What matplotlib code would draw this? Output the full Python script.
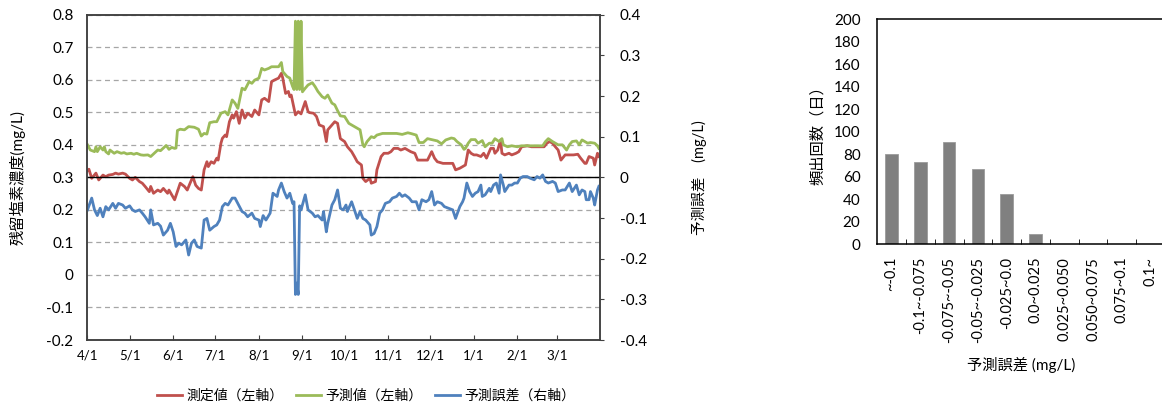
import matplotlib
matplotlib.use('Agg')
import matplotlib.pyplot as plt
import numpy as np
from matplotlib.ticker import FuncFormatter

plt.rcParams['font.family'] = ['Lato', 'Noto Sans CJK JP', 'DejaVu Sans']
plt.rcParams['axes.unicode_minus'] = False

# --- time series (day 0 = 4/1) ---
month_start = [0, 30, 61, 91, 122, 153, 183, 214, 244, 275, 306, 334]
month_labels = ['4/1', '5/1', '6/1', '7/1', '8/1', '9/1', '10/1', '11/1',
                '12/1', '1/1', '2/1', '3/1']

# measured residual chlorine (mg/L, left axis)
meas_day = [0, 1, 3, 6, 8, 11, 13, 15, 18, 20,
            22, 25, 27, 30, 32, 34, 37, 39, 41, 44,
            45, 47, 50, 52, 54, 57, 58, 60, 62, 64,
            66, 69, 71, 73, 75, 77, 79, 81, 83, 85,
            86, 88, 90, 92, 93, 95, 96, 98, 99, 101,
            103, 104, 106, 108, 110, 112, 114, 117, 119, 122,
            124, 126, 129, 131, 133, 136, 138, 139, 141, 143,
            144, 145, 148, 150, 152, 155, 157, 158, 161, 163,
            165, 168, 170, 171, 174, 176, 178, 180, 183, 185,
            188, 190, 192, 195, 196, 198, 201, 202, 205, 206,
            209, 211, 214, 216, 218, 221, 223, 226, 228, 230,
            233, 235, 239, 242, 245, 247, 249, 253, 256, 260,
            262, 265, 267, 269, 271, 273, 275, 277, 280, 282,
            284, 287, 289, 290, 292, 294, 295, 297, 300, 302,
            305, 307, 309, 313, 316, 321, 325, 327, 329, 331,
            333, 335, 337, 340, 343, 346, 349, 351, 354, 355,
            357, 360, 361, 363, 364]
meas_val = [.321, .325, .297, .313, .292, .307, .302, .307, .309, .313,
            .310, .313, .310, .297, .292, .300, .287, .282, .272, .256,
            .272, .251, .261, .256, .266, .251, .261, .246, .231, .256,
            .282, .272, .261, .282, .302, .276, .266, .261, .323, .348,
            .333, .348, .343, .359, .353, .405, .420, .430, .425, .471,
            .492, .482, .502, .466, .507, .482, .497, .487, .507, .492,
            .538, .543, .533, .594, .599, .605, .620, .605, .558, .564,
            .548, .553, .492, .502, .495, .533, .502, .499, .497, .487,
            .461, .456, .410, .446, .461, .471, .466, .419, .410, .394,
            .379, .364, .348, .338, .297, .287, .297, .282, .287, .323,
            .364, .374, .374, .379, .389, .389, .384, .389, .384, .379,
            .374, .353, .353, .353, .379, .359, .348, .343, .343, .343,
            .323, .328, .333, .338, .384, .374, .369, .369, .364, .374,
            .359, .389, .389, .374, .384, .415, .374, .369, .374, .369,
            .374, .379, .394, .397, .394, .394, .394, .405, .410, .405,
            .394, .384, .353, .369, .369, .369, .371, .359, .343, .343,
            .364, .359, .338, .374, .364]

# predicted residual chlorine (mg/L, left axis)
pred_day = [0, 2, 5, 6, 7, 9, 11, 12, 13, 15,
            16, 19, 21, 24, 26, 28, 31, 33, 35, 38,
            40, 43, 45, 47, 50, 52, 56, 58, 60, 62,
            63, 64, 66, 69, 72, 76, 79, 81, 83, 85,
            87, 90, 92, 95, 98, 100, 103, 105, 107, 110,
            112, 115, 117, 119, 122, 124, 126, 129, 131, 133,
            136, 138, 139, 142, 144, 146, 147, 148, 149, 150,
            151, 152, 153, 155, 157, 160, 162, 164, 167, 169,
            171, 174, 176, 178, 180, 183, 186, 190, 194, 196,
            197, 199, 202, 204, 206, 210, 215, 220, 224, 228,
            230, 234, 236, 239, 242, 246, 249, 252, 255, 259,
            261, 263, 266, 268, 269, 271, 273, 276, 278, 281,
            283, 286, 288, 290, 293, 295, 296, 299, 302, 306,
            309, 313, 316, 320, 324, 326, 328, 331, 333, 335,
            338, 341, 343, 345, 348, 350, 352, 354, 356, 358,
            361, 363, 364]
pred_val = [.400, .384, .379, .394, .379, .394, .384, .394, .379, .372,
            .384, .374, .379, .374, .376, .372, .374, .371, .374, .369,
            .368, .369, .364, .372, .384, .382, .398, .386, .392, .389,
            .390, .444, .448, .446, .456, .454, .448, .427, .435, .433,
            .468, .471, .471, .497, .502, .492, .538, .528, .512, .574,
            .569, .594, .589, .599, .605, .635, .630, .635, .640, .640,
            .640, .653, .625, .610, .605, .579, .570, .780, .570, .780,
            .570, .780, .563, .574, .584, .591, .579, .564, .548, .543,
            .553, .528, .523, .505, .489, .487, .466, .456, .446, .400,
            .394, .410, .425, .422, .430, .435, .435, .435, .432, .437,
            .435, .430, .407, .407, .419, .415, .412, .403, .415, .421,
            .419, .410, .400, .386, .389, .405, .416, .416, .405, .413,
            .394, .405, .405, .419, .410, .419, .400, .394, .397, .394,
            .397, .397, .397, .397, .397, .410, .419, .410, .405, .400,
            .400, .384, .400, .410, .412, .400, .415, .410, .405, .407,
            .405, .397, .389]

# prediction error (mg/L, right axis)
err_day = [0, 3, 5, 7, 9, 11, 13, 15, 18, 20,
           22, 25, 27, 30, 32, 34, 37, 39, 41, 44,
           45, 47, 50, 52, 54, 57, 59, 61, 63, 65,
           67, 70, 72, 74, 76, 78, 81, 83, 85, 87,
           90, 92, 94, 96, 98, 100, 103, 105, 107, 110,
           112, 114, 117, 119, 122, 123, 125, 127, 130, 132,
           135, 136, 138, 140, 142, 144, 146, 147, 148, 149,
           150, 151, 152, 155, 157, 160, 162, 164, 167, 168,
           170, 171, 174, 176, 178, 180, 182, 184, 185, 188,
           190, 192, 194, 196, 198, 201, 202, 204, 206, 208,
           210, 212, 215, 217, 220, 222, 224, 226, 229, 231,
           234, 236, 238, 241, 243, 245, 247, 249, 252, 254,
           257, 260, 262, 265, 267, 268, 270, 272, 274, 276,
           278, 280, 281, 283, 286, 287, 289, 291, 293, 294,
           296, 297, 300, 302, 304, 306, 308, 310, 313, 315,
           318, 320, 322, 324, 326, 328, 331, 333, 335, 338,
           340, 343, 345, 348, 350, 352, 354, 355, 357, 358,
           360, 361, 363, 364]
err_val = [-.080, -.051, -.080, -.094, -.076, -.097, -.072, -.080, -.064, -.076,
           -.064, -.068, -.076, -.070, -.080, -.084, -.080, -.088, -.097, -.113,
           -.080, -.117, -.113, -.120, -.142, -.130, -.113, -.134, -.170, -.162,
           -.166, -.154, -.191, -.162, -.154, -.170, -.174, -.105, -.101, -.130,
           -.121, -.117, -.105, -.072, -.064, -.068, -.051, -.051, -.064, -.084,
           -.088, -.097, -.088, -.101, -.105, -.121, -.094, -.105, -.088, -.039,
           -.047, -.031, -.014, -.035, -.051, -.039, -.064, -.060, -.288, -.260,
           -.288, -.070, -.080, -.043, -.080, -.088, -.097, -.094, -.105, -.084,
           -.134, -.113, -.068, -.055, -.031, -.076, -.080, -.068, -.084, -.060,
           -.080, -.101, -.084, -.101, -.105, -.117, -.142, -.138, -.121, -.088,
           -.080, -.064, -.060, -.051, -.047, -.039, -.047, -.043, -.051, -.060,
           -.060, -.080, -.055, -.060, -.055, -.035, -.068, -.060, -.064, -.072,
           -.076, -.080, -.101, -.072, -.060, -.051, -.014, -.035, -.047, -.039,
           -.035, -.019, -.047, -.043, -.027, -.035, -.019, -.014, -.039, .006,
           -.019, -.035, -.019, -.019, -.014, -.014, -.002, .002, .002, -.002,
           -.006, .002, -.002, .006, -.010, -.014, -.010, -.014, -.035, -.031,
           -.031, -.014, -.035, -.019, -.043, -.031, -.035, -.055, -.055, -.035,
           -.051, -.068, -.031, -.022]

# --- histogram of prediction error ---
hist_labels = ['~-0.1', '-0.1~-0.075', '-0.075~-0.05', '-0.05~-0.025',
               '-0.025~0.0', '0.0~0.025', '0.025~0.050', '0.050~0.075',
               '0.075~0.1', '0.1~']
hist_counts = [80, 73, 91, 67, 45, 9, 0, 0, 0, 0]

RED, GREEN, BLUE = '#C0504D', '#9BBB59', '#4F81BD'
SPINE = '#404040'

fig = plt.figure(figsize=(11.62, 4.07), dpi=100)

# left: time series with twin axis
ax = fig.add_axes([0.0753, 0.1646, 0.4413, 0.7993])
ax2 = ax.twinx()

l1, = ax.plot(meas_day, meas_val, color=RED, lw=2, label='測定値（左軸）')
l2, = ax.plot(pred_day, pred_val, color=GREEN, lw=2, label='予測値（左軸）')
ax2.axhline(0, color='black', lw=1)
l3, = ax2.plot(err_day, err_val, color=BLUE, lw=2, label='予測誤差（右軸）')

ax.set_xlim(0, 365)
ax.set_ylim(-0.2, 0.8)
ax2.set_ylim(-0.4, 0.4)

fmt = FuncFormatter(lambda v, p: '0' if abs(v) < 1e-9 else '%.1f' % v)
ax.set_yticks(np.linspace(-0.2, 0.8, 11))
ax.yaxis.set_major_formatter(fmt)
ax.yaxis.grid(True, linestyle=(0, (4, 3)), color='#A6A6A6', lw=0.9)
ax.set_axisbelow(True)
ax.tick_params(axis='y', length=0, pad=10, labelsize=11)
ax.set_xticks(month_start, month_labels)
ax.tick_params(axis='x', direction='in', length=3.5, pad=7, labelsize=9.5,
               color=SPINE)

ax2.set_yticks(np.linspace(-0.4, 0.4, 9))
ax2.yaxis.set_major_formatter(fmt)
ax2.tick_params(axis='y', direction='out', length=3, pad=11, labelsize=11,
                color=SPINE)

for a in (ax, ax2):
    for s in a.spines.values():
        s.set_color(SPINE)
        s.set_linewidth(1.1)

ax.set_ylabel('残留塩素濃度(mg/L)', fontsize=11, va='center')
ax.yaxis.set_label_coords(-0.1355, 0.5)
ax2.set_ylabel('予測誤差\u3000(mg/L)', fontsize=10.5, va='center', rotation=90)
ax2.yaxis.set_label_coords(1.194, 0.5)

fig.legend([l1, l2, l3], [l.get_label() for l in (l1, l2, l3)],
           loc='center', bbox_to_anchor=(0.315, 0.03), ncol=3, frameon=False,
           fontsize=10, handlelength=1.8, handletextpad=0.3, columnspacing=0.9)

# right: histogram
axh = fig.add_axes([0.7549, 0.3998, 0.2477, 0.5535])
pos = np.arange(len(hist_counts))
axh.bar(pos, hist_counts, width=0.44, color='#808080', edgecolor='#9A9A9A',
        lw=0.6)
axh.set_xlim(-0.5, len(hist_counts) - 0.5)
axh.set_ylim(0, 200)
axh.set_yticks(range(0, 201, 20))
axh.tick_params(axis='y', length=0, pad=12, labelsize=11)
axh.set_xticks(pos, hist_labels, rotation=90)
axh.set_xticks(pos[:-1] + 0.5, minor=True)
axh.tick_params(axis='x', which='major', length=0, pad=9, labelsize=10.5)
axh.tick_params(axis='x', which='minor', direction='in', length=3.5,
                color='black')
for s in axh.spines.values():
    s.set_color('black')
    s.set_linewidth(1.1)

axh.set_ylabel('頻出回数（日）', fontsize=11, va='center')
axh.yaxis.set_label_coords((818 - 877.2) / 287.8, 0.5)
axh.set_xlabel('予測誤差 (mg/L)', fontsize=11, va='center')
axh.xaxis.set_label_coords(0.5, -(365 - 244.3) / 225.3)

fig.savefig('out.png', dpi=100)
